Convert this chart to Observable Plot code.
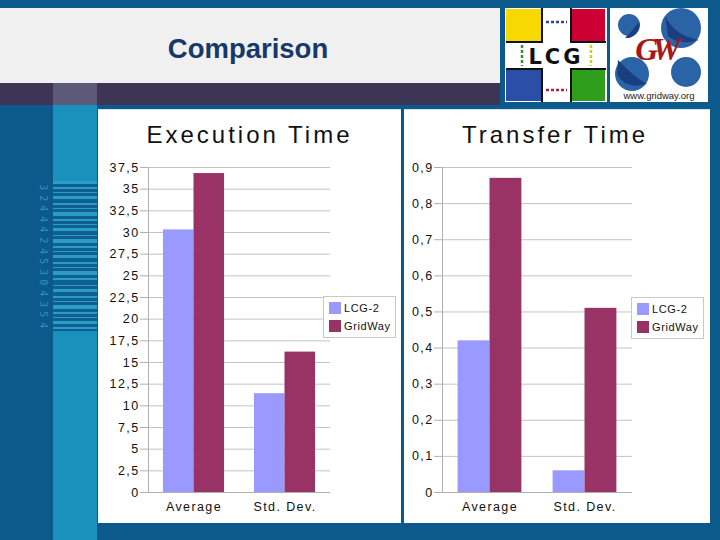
<!DOCTYPE html>
<html>
<head>
<meta charset="utf-8">
<script src="https://cdn.jsdelivr.net/npm/d3@7"></script>
<script src="https://cdn.jsdelivr.net/npm/@observablehq/plot@0.6"></script>
<style>
  html, body { margin: 0; padding: 0; }
  body { width: 720px; height: 540px; position: relative; overflow: hidden; background: #0c5a8b; font-family: "Liberation Sans", Arial, sans-serif; }
  .abs { position: absolute; }
  .panel { position: absolute; background: #ffffff; top: 109px; height: 414px; box-shadow: inset 0 1px 0 #cfe3ef; }
  .ctitle { position: absolute; left: 0; width: 100%; text-align: center; top: 12px; font-size: 24px; letter-spacing: 3px; color: #111; font-family: "Liberation Sans", Arial, sans-serif; }
  .plotwrap { position: absolute; left: 0; top: 39px; }
  .legend { position: absolute; background: #fff; border: 1px solid #c8c8c8; font-size: 11px; letter-spacing: 0.6px; color: #111; padding: 2px 4px 2px 5px; }
  .legend .row { display: flex; align-items: center; height: 18px; }
  .legend .sw { width: 12px; height: 12px; margin-right: 3px; }
</style>
</head>
<body>
<!-- slide decoration -->
<div class="abs" style="left:0;top:8px;width:500px;height:75px;background:#f0f0f0;"></div>
<div class="abs" style="left:0;top:83px;width:500px;height:22px;background:#3c3556;"></div>
<div class="abs" style="left:53px;top:83px;width:44px;height:22px;background:#5d5a79;"></div>
<div class="abs" style="left:53px;top:105px;width:44px;height:435px;background:#1a90bc;"></div>
<div id="barcode" class="abs" style="left:53px;top:181px;width:44px;height:150px;background:#105f92;"></div>
<div id="digits" class="abs" style="left:36px;top:186px;width:14px;font-size:10px;line-height:10.6px;color:#2f8fc4;font-family:'DejaVu Sans Mono',monospace;"></div>
<div class="abs" style="left:0;top:33px;width:496px;text-align:center;font-weight:bold;font-size:27.5px;color:#17386a;font-family:'Liberation Sans',Arial,sans-serif;">Comparison</div>

<!-- logos -->
<svg class="abs" style="left:505px;top:8px;" width="205" height="95" viewBox="0 0 205 95">
  <rect x="0" y="0" width="102" height="94" fill="#fff"/>
  <rect x="1" y="1" width="36" height="33" fill="#f7d800"/>
  <rect x="66" y="1" width="34" height="33" fill="#cc0033"/>
  <rect x="1" y="61" width="36" height="32" fill="#2b4fa8"/>
  <rect x="66" y="61" width="34" height="32" fill="#2f9e1a"/>
  <path d="M37 0 V34 H1 M66 0 V34 H101 M1 61 H37 V94 M101 61 H66 V94" stroke="#111" stroke-width="2" fill="none"/>
  <path d="M41 14 H62" stroke="#334499" stroke-width="2.5" stroke-dasharray="3 2"/>
  <path d="M41 82 H62" stroke="#b02040" stroke-width="2.5" stroke-dasharray="3 2"/>
  <path d="M17 37 V58" stroke="#3a8a2a" stroke-width="2.5" stroke-dasharray="3 2"/>
  <path d="M86 37 V58" stroke="#d8c820" stroke-width="2.5" stroke-dasharray="3 2"/>
  <text x="51" y="56" text-anchor="middle" font-family="DejaVu Sans" font-weight="bold" font-size="21" letter-spacing="3" fill="#111">LCG</text>
  <rect x="105" y="0" width="98" height="94" fill="#fff"/>
  <circle cx="176" cy="20" r="20" fill="#2a64a6"/>
  <circle cx="124" cy="17" r="11" fill="#2a64a6"/>
  <circle cx="127" cy="66" r="17" fill="#2a64a6"/>
  <circle cx="181" cy="64" r="15" fill="#2a64a6"/>
  <path d="M160 8 Q170 28 194 32 Q175 38 163 28 Z" fill="#1a3f80"/>
  <path d="M113 52 Q130 70 142 76 Q120 82 112 66 Z" fill="#1a3f80"/>
  <path d="M120 30 Q128 22 134 14 Q136 26 124 30 Z" fill="#1a3f80"/>
  <text x="150" y="52" text-anchor="middle" font-family="Liberation Serif" font-weight="bold" font-style="italic" font-size="32" letter-spacing="-6" fill="#a81818">GW</text>
  <text x="154" y="91" text-anchor="middle" font-family="Liberation Sans" font-size="9.5" fill="#222">www.gridway.org</text>
</svg>

<div class="panel" style="left:98px;width:303px;">
  <div class="ctitle" style="left:0px">Execution Time</div>
  <div class="plotwrap" id="chart1"></div>
  <div class="legend" id="legend1" style="left:225px;top:187px;"></div>
</div>
<div class="panel" style="left:404px;width:306px;">
  <div class="ctitle" style="left:-2px">Transfer Time</div>
  <div class="plotwrap" id="chart2"></div>
  <div class="legend" id="legend2" style="left:227px;top:188px;"></div>
</div>

<script>
// ---- data ----
const metrics = ["Average", "Std. Dev."];
const series = ["LCG-2", "GridWay"];
const seriesColors = ["#9999ff", "#993366"];
const execLCG = [30.3, 11.4];
const execGridWay = [36.8, 16.2];
const transferLCG = [0.42, 0.06];
const transferGridWay = [0.87, 0.51];
const execTicks = [0, 2.5, 5, 7.5, 10, 12.5, 15, 17.5, 20, 22.5, 25, 27.5, 30, 32.5, 35, 37.5];
const transferTicks = [0, 0.1, 0.2, 0.3, 0.4, 0.5, 0.6, 0.7, 0.8, 0.9];
const barcodeDigits = ["3","2","4","4","4","2","4","5","3","0","4","3","5","4"];

function table(lcg, gw) {
  const rows = [];
  metrics.forEach((m, i) => {
    rows.push({metric: m, series: series[0], value: lcg[i]});
    rows.push({metric: m, series: series[1], value: gw[i]});
  });
  return rows;
}
const fmt = d => String(d).replace(".", ",");

function chart(rows, ticks, opts) {
  return Plot.plot({
    width: opts.width,
    height: 375,
    marginLeft: opts.marginLeft,
    marginRight: opts.marginRight,
    marginTop: 19,
    marginBottom: 31,
    style: {fontFamily: "Liberation Sans, Arial, sans-serif", fontSize: "12.5px", letterSpacing: "1.4px", color: "#111", background: "transparent", overflow: "visible"},
    fx: {domain: metrics, padding: 0, label: null},
    x: {domain: series, paddingInner: 0, paddingOuter: 0.49, round: false, axis: null},
    y: {domain: [0, ticks[ticks.length - 1]], label: null},
    color: {domain: series, range: seriesColors},
    marks: [
      Plot.gridY(ticks, {stroke: "#c4c4c4", strokeOpacity: 1}),
      Plot.barY(rows, {fx: "metric", x: "series", y: "value", fill: "series", inset: 0}),
      Plot.axisY(ticks, {tickSize: 8, tickPadding: 1, tickFormat: fmt, stroke: "#b0b0b0", fill: "#111", label: null}),
      Plot.axisFx({anchor: "bottom", tickSize: 0, tickPadding: 10, label: null, fill: "#111"}),
      Plot.ruleY([0], {stroke: "#b0b0b0"}),
      Plot.frame({anchor: "left", facet: "super", stroke: "#b0b0b0"})
    ]
  });
}

document.getElementById("chart1").append(chart(table(execLCG, execGridWay), execTicks, {width: 303, marginLeft: 50, marginRight: 71}));
document.getElementById("chart2").append(chart(table(transferLCG, transferGridWay), transferTicks, {width: 306, marginLeft: 37, marginRight: 78}));

for (const id of ["legend1", "legend2"]) {
  const el = document.getElementById(id);
  series.forEach((s, i) => {
    const row = document.createElement("div");
    row.className = "row";
    row.innerHTML = `<div class="sw" style="background:${seriesColors[i]}"></div><span>${s}</span>`;
    el.append(row);
  });
}

// barcode decoration
const bc = document.getElementById("barcode");
const stripes = [[0,3],[6,2],[11,1],[15,3],[22,2],[27,1],[31,4],[38,2],[43,1],[47,3],[54,1],[58,4],[65,2],[70,1],[74,3],[81,2],[86,1],[90,4],[97,2],[104,1],[108,3],[115,2],[120,1],[124,4],[131,2],[136,1],[140,3],[146,2]];
bc.innerHTML = stripes.map(([y,h]) => `<div style="position:absolute;left:0;width:44px;top:${y}px;height:${h}px;background:#2a9cc6"></div>`).join("");
document.getElementById("digits").innerHTML = barcodeDigits.map(d => `<div style="transform:rotate(90deg)">${d}</div>`).join("");
</script>
</body>
</html>
